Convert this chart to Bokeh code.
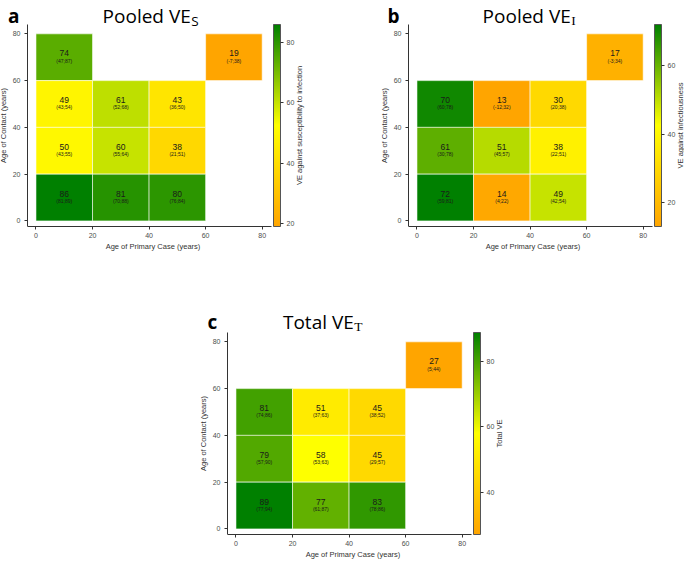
import math
from bokeh.plotting import figure
from bokeh.models import ColumnDataSource, LinearColorMapper, ColorBar, FixedTicker, Label, Spacer
from bokeh.layouts import row, column
from bokeh.core.properties import value
from bokeh.transform import transform
from bokeh.embed import file_html
from bokeh.resources import INLINE

# ---------------- data ----------------
AXIS_TICKS = [0, 20, 40, 60, 80]
BIN = 20  # age-band width (years)

# Panel a: Pooled VE_S  (age of primary case band start, age of contact band start)
a_primary = [0, 60, 0, 20, 40, 0, 20, 40, 0, 20, 40]
a_contact = [60, 60, 40, 40, 40, 20, 20, 20, 0, 0, 0]
a_ve = [74, 19, 49, 61, 43, 50, 60, 38, 86, 81, 80]
a_lo = [47, -7, 43, 52, 36, 43, 55, 21, 81, 70, 76]
a_hi = [87, 38, 54, 68, 50, 55, 64, 51, 89, 88, 84]
a_bar_ticks = [20, 40, 60, 80]

# Panel b: Pooled VE_I
b_primary = [60, 0, 20, 40, 0, 20, 40, 0, 20, 40]
b_contact = [60, 40, 40, 40, 20, 20, 20, 0, 0, 0]
b_ve = [17, 70, 13, 30, 61, 51, 38, 72, 14, 49]
b_lo = [-3, 60, -12, 20, 30, 45, 22, 59, 4, 42]
b_hi = [34, 78, 32, 38, 78, 57, 51, 81, 22, 54]
b_bar_ticks = [20, 40, 60]

# Panel c: Total VE_T
c_primary = [60, 0, 20, 40, 0, 20, 40, 0, 20, 40]
c_contact = [60, 40, 40, 40, 20, 20, 20, 0, 0, 0]
c_ve = [27, 81, 51, 45, 79, 58, 45, 89, 77, 83]
c_lo = [5, 74, 37, 38, 57, 53, 29, 77, 61, 78]
c_hi = [44, 86, 63, 52, 90, 63, 57, 94, 87, 86]
c_bar_ticks = [40, 60, 80]

# ---------------- style ----------------
STOPS = ["#FFA500", "#FFFF00", "#008000"]
FW, FH = 244, 202            # data area size in px
X_RANGE = (-3, 83.3)
Y_RANGE = (-2.4, 84)
SANS = "Liberation Sans"
TFONT = "Open Sans"


def hexrgb(h):
    return tuple(int(h[i:i + 2], 16) for i in (1, 3, 5))


def make_palette(n=256):
    out = []
    for i in range(n):
        t = i / (n - 1) * 2
        k = min(int(t), 1)
        f = t - k
        c0, c1 = hexrgb(STOPS[k]), hexrgb(STOPS[k + 1])
        out.append("#%02x%02x%02x" % tuple(round(c0[j] + (c1[j] - c0[j]) * f) for j in range(3)))
    return out


PALETTE = make_palette()


def panel(letter, main, sub, sub_font, bar_title, primary, contact, ve, lo, hi, bar_ticks,
          EL, ER, ET, top_border, end_x, base_up, sub_up, letter_x, bar_title_dx):
    sx = FW / (X_RANGE[1] - X_RANGE[0])
    sy = FH / (Y_RANGE[1] - Y_RANGE[0])
    xr = (X_RANGE[0] - EL / sx, X_RANGE[1] + ER / sx)
    yr = (Y_RANGE[0], Y_RANGE[1] + ET / sy)
    p = figure(frame_width=EL + FW + ER, frame_height=FH + ET, x_range=xr, y_range=yr,
               min_border_left=0, min_border_right=0, min_border_top=top_border,
               min_border_bottom=28, output_backend="svg", toolbar_location=None, title=None)
    p.grid.visible = False
    p.outline_line_color = None
    p.background_fill_color = "white"
    p.border_fill_color = "white"

    mapper = LinearColorMapper(palette=PALETTE, low=min(ve), high=max(ve))
    src = ColumnDataSource(dict(
        left=primary, right=[x + BIN for x in primary],
        bottom=contact, top=[y + BIN for y in contact],
        xc=[x + BIN / 2 for x in primary], yc=[y + BIN / 2 for y in contact],
        ve=ve, ve_txt=[str(v) for v in ve],
        ci_txt=["(%d;%d)" % (l, h) for l, h in zip(lo, hi)],
    ))
    p.quad(left="left", right="right", bottom="bottom", top="top", source=src,
           fill_color=transform("ve", mapper), line_color="white", line_width=0.8, line_alpha=0.7)
    p.text(x="xc", y="yc", text="ve_txt", source=src, y_offset=-4, text_align="center",
           text_baseline="middle", text_font=value(SANS), text_font_size="8.5px", text_color="#1a1a1a")
    p.text(x="xc", y="yc", text="ci_txt", source=src, y_offset=3.5, text_align="center",
           text_baseline="middle", text_font=value(SANS), text_font_size="5px", text_color="#1a1a1a")

    for ax in (p.xaxis[0], p.yaxis[0]):
        ax.ticker = FixedTicker(ticks=AXIS_TICKS)
        ax.major_tick_out = 3
        ax.major_tick_in = 0
        ax.minor_tick_line_color = None
        ax.axis_line_color = "#333333"
        ax.major_tick_line_color = "#333333"
        ax.major_label_text_font = SANS
        ax.major_label_text_font_size = "7px"
        ax.major_label_text_color = "#4d4d4d"
        ax.axis_label_text_font = SANS
        ax.axis_label_text_font_size = "7.5px"
        ax.axis_label_text_font_style = "normal"
        ax.axis_label_text_color = "#333333"
    p.xaxis.axis_label = "Age of Primary Case (years)"
    p.yaxis.axis_label = "Age of Contact (years)"
    p.xaxis.bounds = X_RANGE
    p.yaxis.bounds = Y_RANGE
    p.yaxis.fixed_location = X_RANGE[0]
    p.xaxis.major_label_standoff = 3
    p.xaxis.axis_label_standoff = 1
    p.yaxis.major_label_standoff = 4
    p.yaxis.axis_label_standoff = 2

    cb = ColorBar(color_mapper=mapper, ticker=FixedTicker(ticks=bar_ticks), width=7, height=FH,
                  padding=0, margin=0, location=(EL + FW + 2, 0),
                  bar_line_color="#555555", bar_line_width=1,
                  major_tick_out=3, major_tick_in=0, major_tick_line_color="#333333",
                  major_label_text_font=SANS, major_label_text_font_size="7px",
                  major_label_text_color="#4d4d4d", label_standoff=3,
                  border_line_color=None, background_fill_color=None)
    p.add_layout(cb)

    p.add_layout(Label(x=EL + FW + bar_title_dx, y=FH / 2, x_units="screen", y_units="screen",
                       text=bar_title, angle=math.pi / 2, text_align="center", text_baseline="middle",
                       text_font=SANS, text_font_size="7.5px", text_color="#333333"))
    p.add_layout(Label(x=EL + letter_x, y=FH + base_up, x_units="screen", y_units="screen", text=letter,
                       text_align="left", text_baseline="alphabetic", text_font=TFONT,
                       text_font_style="bold", text_font_size="19px", text_color="black"))
    p.add_layout(Label(x=EL + end_x, y=FH + base_up, x_units="screen", y_units="screen", text=main,
                       text_align="right", text_baseline="alphabetic", text_font=TFONT,
                       text_font_size="19px", text_color="black"))
    p.add_layout(Label(x=EL + end_x + 0.5, y=FH + sub_up, x_units="screen", y_units="screen", text=sub,
                       text_align="left", text_baseline="alphabetic", text_font=sub_font,
                       text_font_size="13.5px", text_color="black"))
    return p


pa = panel("a", "Pooled VE", "S", TFONT, "VE against susceptibility to infection",
           a_primary, a_contact, a_ve, a_lo, a_hi, a_bar_ticks,
           EL=27, ER=34, ET=24, top_border=0, end_x=163.3, base_up=8.3, sub_up=3.3,
           letter_x=-19.4, bar_title_dx=28)
pb = panel("b", "Pooled VE", "I", "Liberation Serif", "VE against infectiousness",
           b_primary, b_contact, b_ve, b_lo, b_hi, b_bar_ticks,
           EL=27, ER=32, ET=24, top_border=0, end_x=162.3, base_up=8.3, sub_up=4,
           letter_x=-21, bar_title_dx=27.5)
pc = panel("c", "Total VE", "T", "Liberation Serif", "Total VE",
           c_primary, c_contact, c_ve, c_lo, c_hi, c_bar_ticks,
           EL=27, ER=34, ET=25, top_border=53, end_x=126.3, base_up=11, sub_up=6,
           letter_x=-20, bar_title_dx=28)

layout = column(row(pa, Spacer(width=76, height=10), pb),
                row(Spacer(width=200, height=10), pc))

open("out.html", "w").write(file_html(layout, INLINE))
